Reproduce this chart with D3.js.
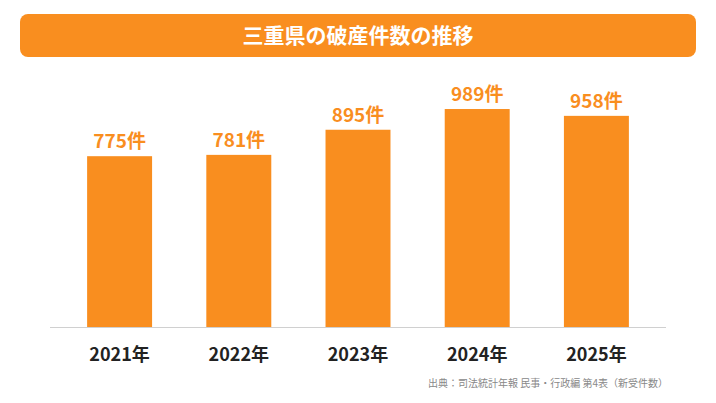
<!DOCTYPE html>
<html><head><meta charset="utf-8">
<script src="https://cdn.jsdelivr.net/npm/d3@7"></script>
<style>body{margin:0;background:#fff;}svg{display:block;font-family:"Noto Sans CJK JP","Noto Sans",sans-serif;}</style>
</head><body><div id="chart"></div>
<script>
const years = ["2021年", "2022年", "2023年", "2024年", "2025年"];
const counts = [775, 781, 895, 989, 958];
const title = "三重県の破産件数の推移";
const source = "出典：司法統計年報 民事・行政編 第4表（新受件数）";

const W = 716, H = 403, base = 327;
const orange = "#f98e1f";

const svg = d3.select("#chart").append("svg").attr("width", W).attr("height", H);

// title bar
svg.append("rect").attr("x", 20).attr("y", 14).attr("width", 676).attr("height", 43)
  .attr("rx", 8).attr("fill", orange);
svg.append("text").attr("x", W / 2).attr("y", 43).attr("text-anchor", "middle")
  .attr("fill", "#fff").attr("font-size", 21).attr("font-weight", 700).text(title);

const x = d3.scaleBand().domain(years).range([60, 656]).paddingInner(0.455).paddingOuter(0.2275);
const y = d3.scaleLinear().domain([0, 1000]).range([base, base - 220.4]);

svg.selectAll("rect.bar").data(counts).enter().append("rect")
  .attr("class", "bar")
  .attr("x", (d, i) => x(years[i]))
  .attr("y", d => y(d))
  .attr("width", x.bandwidth())
  .attr("height", d => base - y(d))
  .attr("fill", orange);

svg.selectAll("text.val").data(counts).enter().append("text")
  .attr("class", "val")
  .attr("x", (d, i) => x(years[i]) + x.bandwidth() / 2)
  .attr("y", d => y(d) - 8)
  .attr("text-anchor", "middle").attr("fill", orange)
  .attr("font-size", 19).attr("font-weight", 700)
  .text(d => d + "件");

// baseline + category labels
svg.append("line").attr("x1", 50).attr("x2", 666).attr("y1", base + 0.5).attr("y2", base + 0.5)
  .attr("stroke", "#d0d0d0").attr("stroke-width", 1);
svg.selectAll("text.cat").data(years).enter().append("text")
  .attr("class", "cat")
  .attr("x", d => x(d) + x.bandwidth() / 2)
  .attr("y", 361).attr("text-anchor", "middle")
  .attr("fill", "#222").attr("font-size", 18).attr("font-weight", 700)
  .text(d => d);

svg.append("text").attr("x", 668).attr("y", 387).attr("text-anchor", "end")
  .attr("fill", "#888").attr("font-size", 10).text(source);
</script></body></html>
